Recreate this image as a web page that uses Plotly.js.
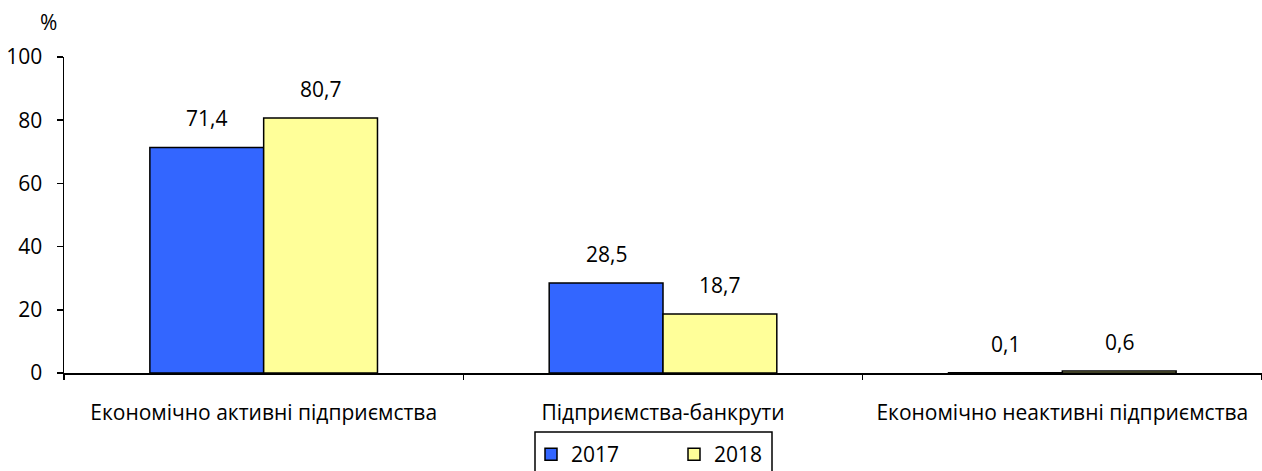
<!DOCTYPE html>
<html><head><meta charset="utf-8">
<script src="https://cdn.plot.ly/plotly-3.0.1.min.js"></script>
<style>body{margin:0;background:#fff}#c{width:1262px;height:471px}</style>
</head><body><div id="c"></div>
<script>
const categories = ["Економічно активні підприємства", "Підприємства-банкрути", "Економічно неактивні підприємства"];
const years = ["2017", "2018"];
const values2017 = [71.4, 28.5, 0.1];
const values2018 = [80.7, 18.7, 0.6];
const yTicks = [0, 20, 40, 60, 80, 100];

const fmt = v => v.toFixed(1).replace('.', ',');
const idx = categories.map((c, i) => i);
const font = {family: "Open Sans, Liberation Sans, Arial, sans-serif", size: 21, color: "#000"};
const bargap = 0.43;
const half = (1 - bargap) / 4;

const traces = [
  {type: "bar", name: years[0], x: idx, y: values2017,
   marker: {color: "#3366FF", line: {color: "#000", width: 1.5}}},
  {type: "bar", name: years[1], x: idx, y: values2018,
   marker: {color: "#FFFF99", line: {color: "#000", width: 1.5}}},
  {type: "scatter", x: [-0.5, 2.5], y: [0, 0], xaxis: "x2", mode: "lines", line: {width: 0}, showlegend: false, hoverinfo: "skip"}
];

const annotations = [];
[values2017, values2018].forEach((vals, s) => {
  vals.forEach((v, i) => annotations.push({
    x: i + (s === 0 ? -half : half), y: v, xref: "x", yref: "y", text: fmt(v),
    showarrow: false, yanchor: "bottom", yshift: 13, font: font
  }));
});
annotations.push({text: "%", xref: "paper", yref: "paper", x: -0.013, y: 1.11, xanchor: "center", yanchor: "middle",
                  showarrow: false, font: font});

const layout = {
  width: 1262, height: 471,
  margin: {l: 64, r: 0, t: 57, b: 98},
  paper_bgcolor: "#fff", plot_bgcolor: "#fff",
  font: font,
  barmode: "group", bargap: bargap, bargroupgap: 0,
  xaxis: {range: [-0.5, 2.5], tickmode: "array", tickvals: idx, ticktext: categories, ticks: "",
          ticklabelstandoff: 20,
          showline: true, linecolor: "#000", linewidth: 1.5, showgrid: false, zeroline: false, fixedrange: true,
          tickfont: font},
  xaxis2: {range: [-0.5, 2.5], overlaying: "x", side: "bottom", anchor: "y", tickmode: "array",
           tickvals: [-0.5, 0.5, 1.5, 2.5], ticks: "outside", ticklen: 6, tickwidth: 1.5, tickcolor: "#000",
           showticklabels: false, showgrid: false, zeroline: false, showline: false},
  yaxis: {range: [0, 100], tickmode: "array", tickvals: yTicks, ticks: "outside", ticklen: 6, tickwidth: 1.5,
          tickcolor: "#000", showline: true, linecolor: "#000", linewidth: 1.5, showgrid: false, zeroline: false,
          ticklabelstandoff: 10, tickfont: font},
  showlegend: true,
  legend: {orientation: "h", x: (531 - 64) / 1198, xanchor: "left", yref: "container", y: 1 - 434/471, yanchor: "top",
           borderwidth: 0, bgcolor: "rgba(0,0,0,0)", font: font, entrywidth: 98, entrywidthmode: "pixels",
           itemwidth: 30, traceorder: "normal"},
  shapes: [{type: "rect", xref: "paper", yref: "paper", x0: (535 - 64) / 1198, x1: (772 - 64) / 1198,
            y0: (373 - 432) / 316, y1: (373 - 480) / 316, line: {color: "#000", width: 1.5}, fillcolor: "rgba(0,0,0,0)"}],
  annotations: annotations
};

Plotly.newPlot("c", traces, layout, {staticPlot: true});
</script></body></html>
